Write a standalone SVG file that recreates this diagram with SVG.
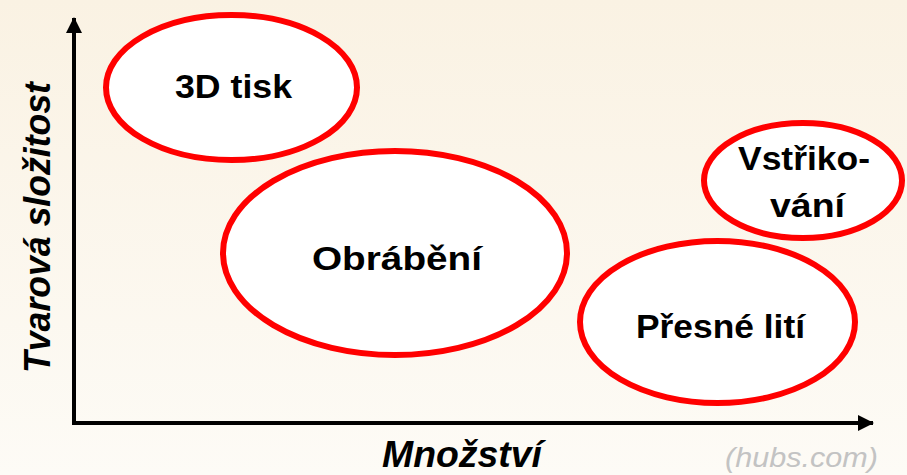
<svg xmlns="http://www.w3.org/2000/svg" width="907" height="475" viewBox="0 0 907 475">
<defs>
<linearGradient id="bg" x1="0" y1="0" x2="0" y2="1">
<stop offset="0" stop-color="#faf2e3"/>
<stop offset="1" stop-color="#fdfbf6"/>
</linearGradient>
<marker id="arr" viewBox="0 0 16 16" refX="15" refY="8" markerWidth="16" markerHeight="16" markerUnits="userSpaceOnUse" orient="auto">
<path d="M0,0 L16,8 L0,16 Z" fill="#000"/>
</marker>
<style>
.node ellipse{fill:#fff;stroke:#ff0000;stroke-width:6}
.lbl{font-family:"Liberation Sans",Arial,sans-serif;font-weight:bold;font-size:33px;fill:#000;text-anchor:middle}
.ax{font-family:"Liberation Sans",Arial,sans-serif;font-weight:bold;font-style:italic;font-size:37px;fill:#000;text-anchor:middle}
.axis{stroke:#000;stroke-width:4;fill:none}
</style>
</defs>
<rect width="907" height="475" fill="url(#bg)"/>
<g id="connectors">
<line class="axis" x1="74" y1="425" x2="74" y2="18" marker-end="url(#arr)"/>
<line class="axis" x1="72" y1="423" x2="873" y2="423" marker-end="url(#arr)"/>
</g>
<g id="node-3d-tisk" class="node">
<ellipse cx="231.5" cy="87.5" rx="125.5" ry="72.5"/>
<text class="lbl" x="233.5" y="98" textLength="117" lengthAdjust="spacingAndGlyphs">3D tisk</text>
</g>
<g id="node-obrabeni" class="node">
<ellipse cx="395" cy="253" rx="172" ry="102"/>
<text class="lbl" x="397" y="270" textLength="170" lengthAdjust="spacingAndGlyphs">Obrábění</text>
</g>
<g id="node-vstrikovani" class="node">
<ellipse cx="803" cy="180.5" rx="99" ry="57.5"/>
<text class="lbl" x="804" y="170" textLength="132" lengthAdjust="spacingAndGlyphs">Vstřiko-</text>
<text class="lbl" x="807.5" y="217" textLength="75" lengthAdjust="spacingAndGlyphs">vání</text>
</g>
<g id="node-presne-liti" class="node">
<ellipse cx="717.5" cy="322" rx="137.5" ry="81"/>
<text class="lbl" x="720.5" y="338" textLength="169" lengthAdjust="spacingAndGlyphs">Přesné lití</text>
</g>
<text class="ax" x="462" y="467" textLength="160" lengthAdjust="spacingAndGlyphs">Množství</text>
<text class="ax" transform="translate(50,227.5) rotate(-90)" x="0" y="0" textLength="291" lengthAdjust="spacingAndGlyphs">Tvarová složitost</text>
<text x="801.5" y="467" font-family="'Liberation Sans',Arial,sans-serif" font-style="italic" font-size="27" fill="#c3c3c3" text-anchor="middle" textLength="153" lengthAdjust="spacingAndGlyphs">(hubs.com)</text>
</svg>
